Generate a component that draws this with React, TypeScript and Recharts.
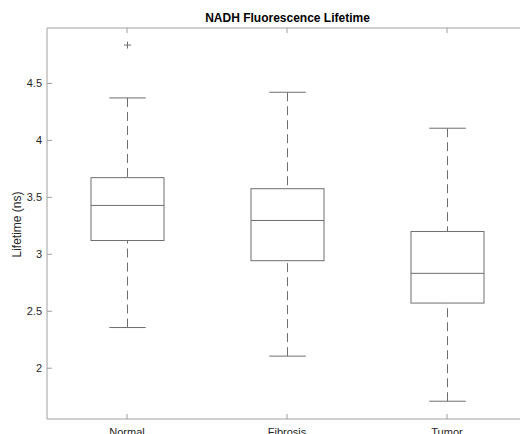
import { ComposedChart, Bar, XAxis, YAxis, Label } from "recharts"

const CATEGORIES = ["Normal", "Fibrosis", "Tumor"]
const WHISKER_LOW = [2.357, 2.106, 1.71]
const Q1 = [3.121, 2.944, 2.572]
const MEDIAN = [3.429, 3.297, 2.833]
const Q3 = [3.673, 3.576, 3.2]
const WHISKER_HIGH = [4.373, 4.423, 4.107]
const OUTLIERS = [[4.837], [], []]
const Y_TICKS = [2, 2.5, 3, 3.5, 4, 4.5]
const Y_DOMAIN = [1.554, 4.987]

const FONT = "'Liberation Sans', Arial, Helvetica, sans-serif"
const TEXT = "#262626"
const AXIS = "#a0a0a0"
const BOX = "#6e6e6e"

const data = CATEGORIES.map((name, i) => ({
  name,
  lo: WHISKER_LOW[i],
  q1: Q1[i],
  med: MEDIAN[i],
  q3: Q3[i],
  hi: WHISKER_HIGH[i],
  outliers: OUTLIERS[i],
}))

// whole box plot drawn from the range bar [lo, hi]; inner values go through the same linear y scale
const BoxShape = (props: any) => {
  const { x, y, width, height, payload } = props
  const { lo, hi, q1, med, q3, outliers } = payload
  const py = (v: number) => y + (height * (hi - v)) / (hi - lo)
  const cx = x + width / 2
  const cap = width / 4
  return (
    <g fill="none" stroke={BOX} strokeWidth={1}>
      <line x1={cx} x2={cx} y1={py(hi)} y2={py(q3)} strokeDasharray="9 5" />
      <line x1={cx} x2={cx} y1={py(lo)} y2={py(q1)} strokeDasharray="9 5" />
      <line x1={cx - cap} x2={cx + cap} y1={py(hi)} y2={py(hi)} />
      <line x1={cx - cap} x2={cx + cap} y1={py(lo)} y2={py(lo)} />
      <rect x={x} y={py(q3)} width={width} height={py(q1) - py(q3)} />
      <line x1={x} x2={x + width} y1={py(med)} y2={py(med)} />
      {outliers.map((o: number, k: number) => (
        <g key={k}>
          <line x1={cx - 3.5} x2={cx + 3.5} y1={py(o)} y2={py(o)} />
          <line x1={cx} x2={cx} y1={py(o) - 3.5} y2={py(o) + 3.5} />
        </g>
      ))}
    </g>
  )
}

const YTick = ({ x, y, payload }: any) => (
  <g>
    <line x1={x} x2={x + 5} y1={y} y2={y} stroke={AXIS} />
    <text x={x - 5} y={y} dy="0.35em" textAnchor="end" fill={TEXT} fontSize={11} fontFamily={FONT}>
      {payload.value}
    </text>
  </g>
)

const BottomTick = ({ x, y, payload }: any) => (
  <g>
    <line x1={x} x2={x} y1={y} y2={y - 5} stroke={AXIS} />
    <text x={x} y={y + 16.5} textAnchor="middle" fill={TEXT} fontSize={11} fontFamily={FONT}>
      {payload.value}
    </text>
  </g>
)

const TopTick = ({ x, y }: any) => (
  <line x1={x} x2={x} y1={y} y2={y + 5} stroke={AXIS} />
)

const YLabel = ({ viewBox }: any) => {
  const cx = 17
  const cy = viewBox.y + viewBox.height / 2 + 1
  return (
    <text
      x={cx}
      y={cy}
      transform={`rotate(-90 ${cx} ${cy})`}
      textAnchor="middle"
      dominantBaseline="central"
      fill={TEXT}
      fontSize={12}
      fontFamily={FONT}
    >
      Lifetime (ns)
    </text>
  )
}

// the axes box in the original runs past the figure edge; keep the plot inside
// and stretch the category range so the boxes land where they should
const X_PADDING = { left: 0, right: -7 }

export default function App() {
  return (
    <div
      style={{
        position: "absolute",
        left: 0,
        top: 0,
        width: 523,
        height: 434,
        overflow: "hidden",
        background: "#fff",
      }}
    >
      <ComposedChart
        width={523}
        height={434}
        data={data}
        margin={{ top: 27, right: 3, bottom: 0, left: 0 }}
      >
        <XAxis
          dataKey="name"
          type="category"
          height={15}
          padding={X_PADDING}
          stroke={AXIS}
          tickSize={0}
          tickMargin={0}
          tick={<BottomTick />}
        />
        <XAxis
          xAxisId="top"
          orientation="top"
          dataKey="name"
          type="category"
          height={1}
          padding={X_PADDING}
          stroke={AXIS}
          tickSize={0}
          tickMargin={0}
          tick={<TopTick />}
        >
          <Label
            value="NADH Fluorescence Lifetime"
            position="top"
            offset={5}
            dx={4}
            fill="#000"
            fontSize={12}
            fontWeight="bold"
            fontFamily={FONT}
          />
        </XAxis>
        <YAxis
          type="number"
          domain={Y_DOMAIN}
          ticks={Y_TICKS}
          width={47}
          stroke={AXIS}
          tickSize={0}
          tickMargin={0}
          tick={<YTick />}
        >
          <Label content={<YLabel />} />
        </YAxis>
        <Bar
          dataKey={(d: any) => [d.lo, d.hi]}
          barSize={73}
          shape={<BoxShape />}
          isAnimationActive={false}
        />
      </ComposedChart>
    </div>
  )
}
